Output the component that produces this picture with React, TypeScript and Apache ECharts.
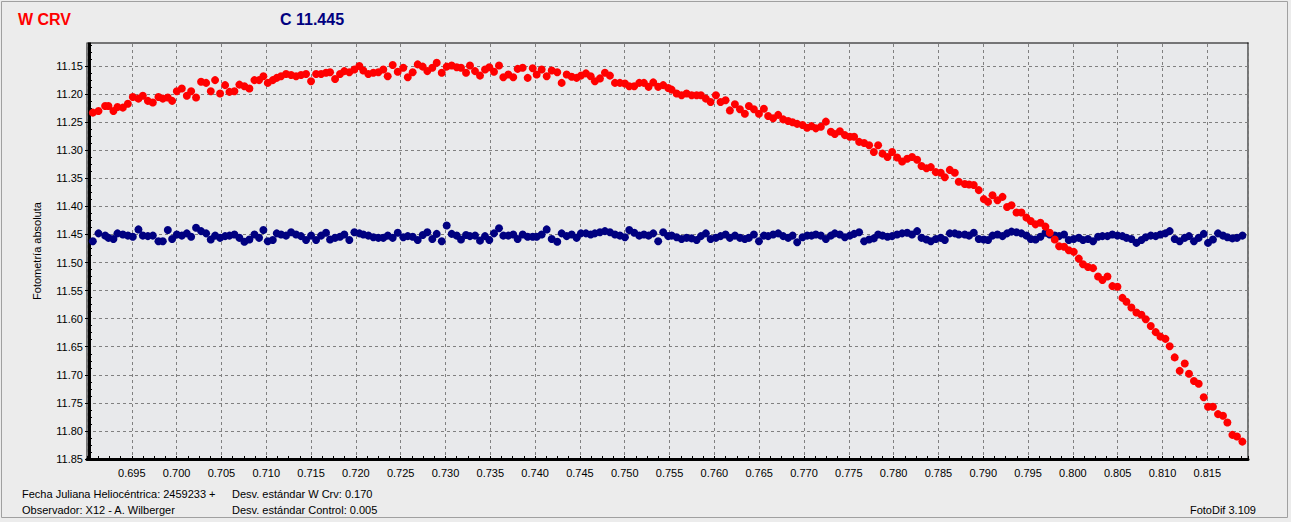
import React, { useEffect, useRef } from "react";
import * as echarts from "echarts";

// Heliocentric JD - 2459233 (shared by both stars, one frame per point)
const TIME = [
  0.69065, 0.69128, 0.69202, 0.69239, 0.69295, 0.6934, 0.694, 0.69456, 0.69511, 0.69574,
  0.69623, 0.69679, 0.69734, 0.69797, 0.69846, 0.69902, 0.6995, 0.70002, 0.70058, 0.70114,
  0.70162, 0.70217, 0.70273, 0.70329, 0.70381, 0.70429, 0.70485, 0.70541, 0.70589, 0.70645,
  0.707, 0.70756, 0.70812, 0.70868, 0.7092, 0.70968, 0.71017, 0.71073, 0.71117, 0.71165,
  0.71221, 0.71277, 0.71333, 0.71388, 0.71444, 0.715, 0.71556, 0.71612, 0.71667, 0.71712,
  0.71768, 0.71823, 0.71871, 0.71927, 0.71983, 0.72039, 0.72083, 0.72139, 0.72195, 0.72251,
  0.72306, 0.72355, 0.72411, 0.72467,
  0.72529, 0.72579, 0.72634, 0.7269, 0.72746, 0.72797, 0.72853, 0.72902, 0.72958, 0.73013,
  0.73069, 0.73125, 0.73173, 0.73229, 0.73273, 0.73329, 0.73385, 0.73441, 0.73489, 0.73541,
  0.73597, 0.73645, 0.73701, 0.73756, 0.73805, 0.73861, 0.73917, 0.73973, 0.74017, 0.74073,
  0.74129, 0.74185, 0.74247, 0.74296, 0.74352, 0.74408, 0.74463, 0.74511, 0.74567, 0.7462,
  0.74667, 0.74723, 0.74779, 0.74835, 0.74891, 0.74946, 0.75002, 0.7505, 0.75106, 0.75162,
  0.75214, 0.75266, 0.75318, 0.75373, 0.75429, 0.75485,
  0.75523, 0.75579, 0.75634, 0.7569, 0.75746, 0.75802, 0.7585, 0.75905, 0.75958, 0.76017,
  0.76069, 0.76125, 0.76173, 0.76229, 0.76285, 0.7634, 0.76385, 0.76441, 0.76497, 0.76552,
  0.766, 0.76656, 0.76712, 0.76768, 0.76823, 0.76872, 0.76924, 0.76984, 0.77035, 0.77084,
  0.77132, 0.77188, 0.77244, 0.773, 0.77344, 0.774, 0.77456, 0.77511, 0.77559, 0.77615,
  0.77671, 0.77727, 0.77779, 0.77827, 0.77876, 0.77932, 0.77983, 0.78039, 0.78095, 0.78151,
  0.78206, 0.78262, 0.78311, 0.78367, 0.78415, 0.78471, 0.78526, 0.78571, 0.78627, 0.78683,
  0.78727,
  0.78794, 0.78842, 0.78894, 0.7895, 0.79006, 0.79054, 0.79103, 0.79159, 0.79215, 0.79266,
  0.79315, 0.79371, 0.79426, 0.79482, 0.7953, 0.79583, 0.79638, 0.79694, 0.79742, 0.79798,
  0.79846, 0.79902, 0.79954, 0.8001, 0.80066, 0.80113, 0.80169, 0.80225, 0.80281, 0.8033,
  0.80386, 0.80441, 0.80497, 0.80553, 0.80598, 0.80653, 0.80709, 0.80765, 0.80813, 0.80869,
  0.80924, 0.80977, 0.81033, 0.8108, 0.81136, 0.81192, 0.81248, 0.81296, 0.81351, 0.81404,
  0.8146, 0.81508, 0.81563, 0.81619, 0.81675, 0.81724, 0.8178, 0.81831, 0.81891,
];

// Variable star W Crv (red)
const VAR_MAG = [
  11.233, 11.23, 11.221, 11.221, 11.23, 11.223, 11.224, 11.217, 11.205, 11.208,
  11.203, 11.212, 11.215, 11.205, 11.208, 11.206, 11.212, 11.195, 11.19, 11.203,
  11.195, 11.206, 11.178, 11.18, 11.195, 11.175, 11.199, 11.184, 11.196, 11.195,
  11.183, 11.186, 11.19, 11.175, 11.175, 11.168, 11.18, 11.175, 11.171, 11.168,
  11.164, 11.166, 11.168, 11.166, 11.164, 11.177, 11.164, 11.164, 11.162, 11.161,
  11.173, 11.164, 11.159, 11.161, 11.156, 11.15, 11.158, 11.164, 11.162, 11.161,
  11.156, 11.168, 11.148, 11.16,
  11.153, 11.17, 11.161, 11.147, 11.151, 11.159, 11.153, 11.144, 11.162, 11.151,
  11.149, 11.152, 11.153, 11.162, 11.149, 11.159, 11.167, 11.156, 11.152, 11.16,
  11.149, 11.17, 11.165, 11.17, 11.155, 11.153, 11.171, 11.154, 11.165, 11.156,
  11.168, 11.158, 11.161, 11.18, 11.165, 11.169, 11.171, 11.167, 11.163, 11.168,
  11.177, 11.172, 11.162, 11.167, 11.18, 11.18, 11.181, 11.186, 11.186, 11.18,
  11.18, 11.187, 11.179, 11.187, 11.184, 11.189,
  11.192, 11.199, 11.202, 11.199, 11.202, 11.202, 11.202, 11.208, 11.214, 11.202,
  11.214, 11.211, 11.229, 11.218, 11.227, 11.235, 11.221, 11.227, 11.235, 11.226,
  11.239, 11.243, 11.237, 11.245, 11.248, 11.25, 11.253, 11.255, 11.26, 11.257,
  11.261, 11.258, 11.249, 11.267, 11.271, 11.266, 11.273, 11.276, 11.276, 11.285,
  11.287, 11.291, 11.303, 11.291, 11.306, 11.312, 11.303, 11.313, 11.32, 11.315,
  11.312, 11.317, 11.328, 11.332, 11.33, 11.339, 11.34, 11.348, 11.335, 11.34,
  11.356,
  11.36, 11.361, 11.362, 11.371, 11.387, 11.392, 11.38, 11.389, 11.383, 11.401,
  11.398, 11.411, 11.411, 11.42, 11.426, 11.432, 11.429, 11.436, 11.447, 11.459,
  11.471, 11.472, 11.478, 11.481, 11.493, 11.503, 11.508, 11.51, 11.525, 11.531,
  11.525, 11.542, 11.543, 11.563, 11.57, 11.58, 11.589, 11.593, 11.601, 11.613,
  11.624, 11.632, 11.636, 11.649, 11.669, 11.693, 11.68, 11.698, 11.711, 11.716,
  11.74, 11.757, 11.757, 11.77, 11.773, 11.785, 11.807, 11.81, 11.819,
];

// Control star (navy)
const CMP_MAG = [
  11.462, 11.448, 11.452, 11.456, 11.458, 11.448, 11.45, 11.452, 11.454, 11.441,
  11.452, 11.453, 11.452, 11.462, 11.462, 11.442, 11.458, 11.45, 11.452, 11.448,
  11.454, 11.438, 11.444, 11.448, 11.459, 11.452, 11.456, 11.453, 11.452, 11.45,
  11.456, 11.463, 11.459, 11.45, 11.456, 11.442, 11.462, 11.46, 11.448, 11.45,
  11.452, 11.446, 11.45, 11.453, 11.46, 11.452, 11.46, 11.452, 11.447, 11.459,
  11.456, 11.454, 11.45, 11.46, 11.446, 11.448, 11.45, 11.452, 11.455, 11.456,
  11.456, 11.452, 11.456, 11.447,
  11.455, 11.453, 11.454, 11.46, 11.451, 11.446, 11.458, 11.449, 11.462, 11.434,
  11.449, 11.452, 11.459, 11.451, 11.453, 11.452, 11.461, 11.453, 11.46, 11.448,
  11.439, 11.452, 11.452, 11.45, 11.458, 11.45, 11.454, 11.454, 11.454, 11.45,
  11.441, 11.458, 11.463, 11.448, 11.453, 11.45, 11.456, 11.448, 11.448, 11.45,
  11.448, 11.446, 11.444, 11.446, 11.45, 11.452, 11.455, 11.442, 11.447, 11.452,
  11.45, 11.452, 11.448, 11.462, 11.446, 11.453,
  11.452, 11.455, 11.458, 11.456, 11.457, 11.46, 11.453, 11.448, 11.458, 11.456,
  11.453, 11.45, 11.456, 11.452, 11.456, 11.458, 11.456, 11.45, 11.462, 11.452,
  11.453, 11.45, 11.448, 11.453, 11.456, 11.452, 11.464, 11.455, 11.452, 11.452,
  11.45, 11.452, 11.458, 11.452, 11.448, 11.45, 11.455, 11.452, 11.449, 11.446,
  11.462, 11.459, 11.457, 11.45, 11.452, 11.454, 11.453, 11.45, 11.448, 11.447,
  11.45, 11.444, 11.456, 11.459, 11.462, 11.458, 11.456, 11.46, 11.448, 11.448,
  11.45,
  11.45, 11.452, 11.447, 11.458, 11.459, 11.46, 11.452, 11.45, 11.453, 11.448,
  11.445, 11.446, 11.448, 11.452, 11.458, 11.459, 11.454, 11.447, 11.45, 11.452,
  11.453, 11.45, 11.46, 11.458, 11.456, 11.46, 11.458, 11.462, 11.454, 11.453, 11.453,
  11.45, 11.452, 11.453, 11.456, 11.458, 11.465, 11.46, 11.455, 11.452, 11.453,
  11.45, 11.448, 11.444, 11.458, 11.462, 11.456, 11.453, 11.462, 11.456, 11.449,
  11.465, 11.459, 11.448, 11.452, 11.455, 11.457, 11.456, 11.452,
];

// Axis extents (min values are multiples of the step; the visible frame starts at 11.111 / 0.69024)
const X_RANGE = [0.69, 0.81954];
const Y_RANGE = [11.1, 11.85];
const X_STEP = 0.005;
const Y_STEP = 0.05;

const TITLE_VAR = "W CRV";
const TITLE_CMP = "C 11.445";
const Y_NAME = "Fotometría absoluta";
const FOOT_LEFT = ["Fecha Juliana Heliocéntrica: 2459233 +", "Observador: X12 - A. Wilberger"];
const FOOT_MID = ["Desv. estándar W Crv: 0.170", "Desv. estándar Control: 0.005"];
const FOOT_RIGHT = "FotoDif 3.109";

const FONT = "'Liberation Sans', Arial, sans-serif";
const OUTER_BG = "#ececec";
const PLOT_BG = "#e8e9eb";

export default function App() {
  const ref = useRef<HTMLDivElement>(null);

  useEffect(() => {
    document.body.style.margin = "0";
    document.body.style.background = "#f0f0f0";
    if (!ref.current) return;
    const chart = echarts.init(ref.current, null, { renderer: "svg" });

    const varData = TIME.map((t, i) => [t, VAR_MAG[i]]);
    const cmpData = TIME.map((t, i) => [t, CMP_MAG[i]]);

    const text = (x: number, y: number, s: string, extra: any = {}) => ({
      type: "text",
      x,
      y,
      silent: true,
      z: 110,
      style: {
        text: s,
        fill: "#000",
        font: `11px ${FONT}`,
        verticalAlign: "middle",
        ...extra,
      },
    });

    const gridLine = { show: true, lineStyle: { color: "#808080", type: [3, 3], width: 1 } };
    const yCommon = {
      type: "value",
      inverse: true,
      min: Y_RANGE[0],
      max: Y_RANGE[1],
      interval: Y_STEP,
      position: "left",
      offset: -2,
    };

    chart.setOption({
      animation: false,
      backgroundColor: OUTER_BG,
      textStyle: { fontFamily: FONT },
      grid: {
        left: 87,
        top: 38,
        width: 1161,
        height: 421,
        show: true,
        backgroundColor: PLOT_BG,
        borderColor: "#000",
        borderWidth: 1,
      },
      xAxis: {
        type: "value",
        min: X_RANGE[0],
        max: X_RANGE[1],
        interval: X_STEP,
        axisLine: { show: true, onZero: false, lineStyle: { color: "#000", width: 3 } },
        axisTick: { show: true, inside: true, length: 3, lineStyle: { color: "#000" } },
        minorTick: { show: true, splitNumber: 4, length: 3, lineStyle: { color: "#000" } },
        axisLabel: {
          color: "#000",
          fontFamily: FONT,
          fontSize: 11,
          margin: 8,
          showMinLabel: false,
          showMaxLabel: false,
          formatter: (v: number) => v.toFixed(3),
        },
        splitLine: gridLine,
      },
      yAxis: [
        {
          ...yCommon,
          axisLine: { show: true, onZero: false, lineStyle: { color: "#000", width: 3 } },
          axisTick: { show: true, length: 4, lineStyle: { color: "#000" } },
          axisLabel: {
            color: "#000",
            fontFamily: FONT,
            fontSize: 11,
            margin: 6,
            showMinLabel: false,
            formatter: (v: number) => v.toFixed(2),
          },
          splitLine: gridLine,
        },
        {
          ...yCommon,
          axisLine: { show: false },
          axisTick: { show: false, inside: true },
          minorTick: { show: true, splitNumber: 4, length: 3, lineStyle: { color: "#000" } },
          axisLabel: { show: false },
          splitLine: { show: false },
        },
      ],
      series: [
        {
          type: "scatter",
          data: cmpData,
          symbol: "circle",
          symbolSize: 8,
          itemStyle: { color: "#000080", opacity: 1 },
          silent: true,
        },
        {
          type: "scatter",
          data: varData,
          symbol: "circle",
          symbolSize: 8,
          itemStyle: { color: "#ff0000", opacity: 1 },
          silent: true,
        },
      ],
      graphic: [
        // hide the part of the axis range above the visible frame
        {
          type: "rect",
          silent: true,
          z: 100,
          shape: { x: 80, y: 30, width: 1175, height: 12.5 },
          style: { fill: OUTER_BG },
        },
        {
          type: "line",
          silent: true,
          z: 101,
          shape: { x1: 87.5, y1: 43, x2: 1248.5, y2: 43 },
          style: { stroke: "#000", lineWidth: 1 },
        },
        {
          type: "rect",
          silent: true,
          z: 101,
          shape: { x: 1.5, y: 1.5, width: 1286, height: 516 },
          style: { fill: "none", stroke: "#a0a0a0", lineWidth: 1 },
        },
        text(18, 19, TITLE_VAR, { fill: "#ff0000", font: `bold 16px ${FONT}` }),
        text(280, 19, TITLE_CMP, { fill: "#000080", font: `bold 16px ${FONT}` }),
        {
          type: "text",
          x: 37,
          y: 251,
          rotation: Math.PI / 2,
          silent: true,
          z: 110,
          style: {
            text: Y_NAME,
            fill: "#000",
            font: `11px ${FONT}`,
            align: "center",
            verticalAlign: "middle",
          },
        },
        text(22, 494, FOOT_LEFT[0]),
        text(22, 510, FOOT_LEFT[1]),
        text(232, 494, FOOT_MID[0]),
        text(232, 510, FOOT_MID[1]),
        text(1256, 510, FOOT_RIGHT, { align: "right" }),
      ],
    });

    return () => chart.dispose();
  }, []);

  return <div ref={ref} style={{ width: 1291, height: 522 }} />;
}
